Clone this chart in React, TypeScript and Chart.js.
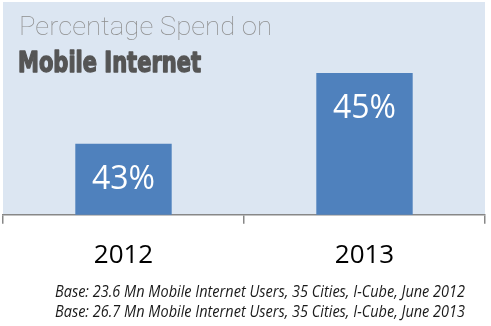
import React, { useEffect, useRef } from "react";
import { Chart, registerables } from "chart.js";

Chart.register(...registerables);

const categories = ["2012", "2013"];
const spendValues = [43, 45];
const valueLabels = ["43%", "45%"];
const titleLine1 = "Percentage Spend on";
const titleLine2 = "Mobile Internet";
const footnotes = [
  "Base: 23.6 Mn Mobile Internet Users, 35 Cities, I-Cube, June 2012",
  "Base: 26.7 Mn Mobile Internet Users, 35 Cities, I-Cube, June 2013",
];

const W = 491;
const H = 326;

function drawFitted(
  ctx: CanvasRenderingContext2D,
  text: string,
  x: number,
  y: number,
  font: string,
  targetWidth: number,
  align: "left" | "center",
  stroke = 0
) {
  ctx.font = font;
  const w = ctx.measureText(text).width;
  const sx = targetWidth / w;
  ctx.save();
  ctx.translate(x, y);
  ctx.scale(sx, 1);
  ctx.textAlign = align;
  ctx.textBaseline = "alphabetic";
  ctx.fillText(text, 0, 0);
  if (stroke > 0) {
    ctx.strokeStyle = ctx.fillStyle as string;
    ctx.lineWidth = stroke;
    ctx.lineJoin = "round";
    ctx.strokeText(text, 0, 0);
  }
  ctx.restore();
}

const decorPlugin = {
  id: "decor",
  beforeDraw(chart: any) {
    const { ctx, chartArea } = chart;
    ctx.save();
    ctx.fillStyle = "#dce6f2";
    ctx.fillRect(
      chartArea.left,
      chartArea.top,
      chartArea.right - chartArea.left,
      chartArea.bottom - chartArea.top
    );
    ctx.restore();
  },
  afterDatasetsDraw(chart: any) {
    const { ctx } = chart;
    const meta = chart.getDatasetMeta(0);
    ctx.save();
    ctx.fillStyle = "#ffffff";
    ctx.font = "32px 'Open Sans'";
    ctx.textAlign = "center";
    ctx.textBaseline = "middle";
    meta.data.forEach((bar: any, i: number) => {
      ctx.fillText(valueLabels[i], bar.x, bar.y + 36);
    });
    ctx.restore();
  },
  afterDraw(chart: any) {
    const { ctx } = chart;
    ctx.save();
    // title
    ctx.fillStyle = "#8e8e8e";
    drawFitted(ctx, titleLine1, 19, 35, "100 25px Roboto", 253, "left");
    ctx.fillStyle = "#555555";
    drawFitted(
      ctx,
      titleLine2,
      18,
      72,
      "bold 28px 'DejaVu Sans Condensed', 'DejaVu Sans'",
      183,
      "left",
      1.4
    );
    // footnotes
    ctx.fillStyle = "#1a1a1a";
    drawFitted(ctx, footnotes[0], 260, 297, "italic 17px 'Open Sans'", 410, "center");
    drawFitted(ctx, footnotes[1], 260, 317, "italic 17px 'Open Sans'", 410, "center");
    ctx.restore();
  },
};

export default function App() {
  const ref = useRef<HTMLCanvasElement | null>(null);
  useEffect(() => {
    document.body.style.margin = "0";
    const canvas = ref.current;
    if (!canvas) return;
    const chart = new Chart(canvas, {
      type: "bar",
      data: {
        labels: categories,
        datasets: [
          {
            data: spendValues,
            backgroundColor: "#4f81bd",
            borderWidth: 0,
            barPercentage: 0.4,
            categoryPercentage: 1,
          },
        ],
      },
      options: {
        responsive: false,
        animation: false,
        devicePixelRatio: 1,
        layout: { padding: { left: 3, right: 6, top: 2, bottom: 39 } },
        plugins: {
          legend: { display: false },
          tooltip: { enabled: false },
          title: { display: false },
        },
        scales: {
          y: { display: false, min: 41, max: 47 },
          x: {
            grid: {
              offset: true,
              drawOnChartArea: false,
              drawTicks: true,
              tickLength: 9,
              color: "#878787",
              lineWidth: 1.5,
            },
            border: { display: true, color: "#878787", width: 1.5 },
            ticks: {
              color: "#000000",
              font: { family: "'Open Sans'", size: 26 },
              padding: 16,
            },
          },
        },
      },
      plugins: [decorPlugin],
    });
    return () => chart.destroy();
  }, []);
  return (
    <div style={{ position: "absolute", left: 0, top: 0, width: W, height: H, background: "#fff" }}>
      <canvas ref={ref} width={W} height={H} style={{ width: W, height: H, display: "block" }} />
    </div>
  );
}
